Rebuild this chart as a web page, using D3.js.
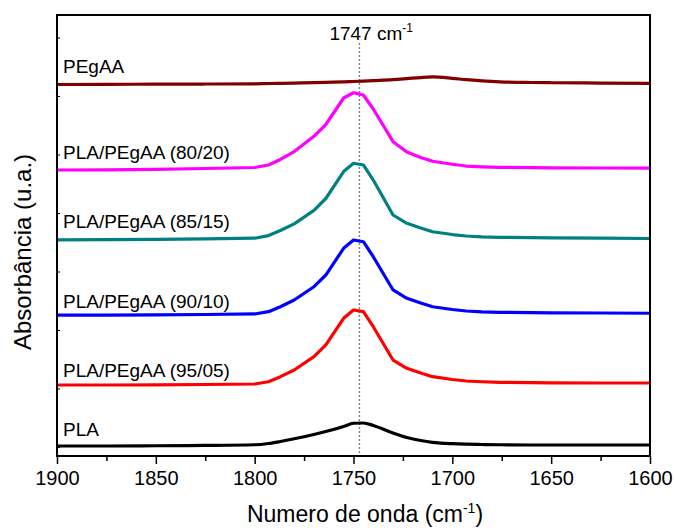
<!DOCTYPE html>
<html>
<head>
<meta charset="utf-8">
<script src="https://cdn.jsdelivr.net/npm/d3@7"></script>
<style>
  html, body { margin: 0; padding: 0; background: #fff; }
  svg { display: block; }
  text { font-family: "Liberation Sans", Arial, sans-serif; fill: #000; }
</style>
</head>
<body>
<svg id="chart" width="675" height="528"></svg>
<script>
// FTIR carbonyl region, spectra stacked with vertical offsets (arbitrary units)
const wavenumbers = [1900, 1875, 1850, 1825, 1800, 1793, 1787, 1780, 1770, 1764, 1755, 1750, 1745,
                     1740, 1730, 1723, 1716, 1710, 1700, 1693, 1685, 1676, 1660, 1650, 1625, 1600];

const seriesNames = ["PLA", "PLA/PEgAA (95/05)", "PLA/PEgAA (90/10)", "PLA/PEgAA (85/15)", "PLA/PEgAA (80/20)", "PEgAA"];

const absPLA = [0.017, 0.017, 0.021, 0.026, 0.038, 0.060, 0.094, 0.140, 0.214, 0.265, 0.350, 0.406, 0.410,
                0.368, 0.239, 0.162, 0.111, 0.080, 0.056, 0.048, 0.043, 0.038, 0.034, 0.034, 0.034, 0.034];
const abs95 = [1.060, 1.060, 1.063, 1.068, 1.077, 1.116, 1.202, 1.316, 1.544, 1.744, 2.200, 2.342, 2.313,
               2.056, 1.487, 1.345, 1.265, 1.202, 1.154, 1.128, 1.115, 1.106, 1.101, 1.097, 1.094, 1.094];
const abs90 = [2.256, 2.256, 2.260, 2.265, 2.274, 2.313, 2.398, 2.513, 2.740, 2.940, 3.397, 3.538, 3.509,
               3.253, 2.684, 2.542, 2.462, 2.398, 2.350, 2.325, 2.311, 2.303, 2.298, 2.294, 2.291, 2.286];
const abs85 = [3.542, 3.545, 3.550, 3.559, 3.569, 3.614, 3.701, 3.815, 4.046, 4.248, 4.709, 4.850, 4.821,
               4.564, 3.966, 3.824, 3.744, 3.680, 3.632, 3.607, 3.593, 3.585, 3.579, 3.576, 3.569, 3.564];
const abs80 = [4.735, 4.738, 4.747, 4.761, 4.778, 4.821, 4.915, 5.051, 5.311, 5.513, 5.966, 6.056, 6.017,
               5.778, 5.219, 5.043, 4.949, 4.885, 4.834, 4.803, 4.790, 4.781, 4.776, 4.773, 4.769, 4.766];
const absPEgAA = [6.197, 6.200, 6.202, 6.205, 6.209, 6.214, 6.217, 6.222, 6.228, 6.234, 6.242, 6.248, 6.254,
                  6.262, 6.279, 6.297, 6.316, 6.326, 6.303, 6.280, 6.260, 6.243, 6.231, 6.227, 6.222, 6.217];

const seriesValues = [absPLA, abs95, abs90, abs85, abs80, absPEgAA];
const seriesColors = ["#000000", "#ff0000", "#0000ff", "#008080", "#ff00ff", "#800000"];
// label baselines in data units (placed just above each trace)
const labelLevels = [0.180, 1.198, 2.376, 3.744, 4.923, 6.393];

const xTicks = [1900, 1850, 1800, 1750, 1700, 1650, 1600];
const xMinorTicks = [1875, 1825, 1775, 1725, 1675, 1625];
const yTicks = [0, 1, 2, 3, 4, 5, 6, 7];
const markerWavenumber = 1747;

const margin = { left: 57, right: 25, top: 15, bottom: 72 };
const W = 675, H = 528;
const x0 = margin.left, x1 = W - margin.right;
const y0 = H - margin.bottom, y1 = margin.top;

const svg = d3.select("#chart");

const x = d3.scaleLinear().domain([1900, 1600]).range([x0, x1]);
const y = d3.scaleLinear().domain([-0.154, 7.385]).range([y0, y1]);

// dotted marker at the carbonyl band
svg.append("line")
  .attr("x1", x(markerWavenumber)).attr("x2", x(markerWavenumber))
  .attr("y1", 43).attr("y2", y0)
  .attr("stroke", "#7f7f7f").attr("stroke-width", 1.4)
  .attr("stroke-dasharray", "2,2");

const markerLabel = svg.append("text")
  .attr("x", x(markerWavenumber) - 30).attr("y", 40)
  .attr("font-size", 19);
markerLabel.append("tspan").text("1747 cm");
markerLabel.append("tspan").attr("font-size", 12).attr("dy", -8).text("-1");

// spectra
seriesValues.forEach((vals, i) => {
  const smooth = (i === 0 || i === 5);
  const line = d3.line()
    .x((d, j) => x(wavenumbers[j]))
    .y(d => y(d))
    .curve(smooth ? d3.curveMonotoneX : d3.curveLinear);
  svg.append("path")
    .datum(vals)
    .attr("d", line)
    .attr("fill", "none")
    .attr("stroke", seriesColors[i])
    .attr("stroke-width", 3.2)
    .attr("stroke-linejoin", "round");
});

// series labels
seriesNames.forEach((name, i) => {
  svg.append("text")
    .attr("x", 63).attr("y", y(labelLevels[i]))
    .attr("font-size", 19)
    .text(name);
});

// bottom axis (reversed wavenumber)
const xAxis = d3.axisBottom(x).tickValues(xTicks).tickSize(8).tickPadding(7).tickFormat(d3.format("d"));
const gx = svg.append("g").attr("transform", `translate(0,${y0})`).call(xAxis);
gx.select(".domain").remove();
gx.selectAll(".tick line").attr("stroke", "#000").attr("stroke-width", 1.5);
gx.selectAll(".tick text").attr("font-size", 20).attr("font-family", "Liberation Sans, Arial, sans-serif").attr("fill", "#000");

const xMinor = d3.axisBottom(x).tickValues(xMinorTicks).tickSize(5).tickFormat("");
const gxm = svg.append("g").attr("transform", `translate(0,${y0})`).call(xMinor);
gxm.select(".domain").remove();
gxm.selectAll(".tick line").attr("stroke", "#000").attr("stroke-width", 1.5);

// left axis: small inward ticks, no labels
const yAxis = d3.axisRight(y).tickValues(yTicks).tickSize(3).tickFormat("");
const gy = svg.append("g").attr("transform", `translate(${x0},0)`).call(yAxis);
gy.select(".domain").remove();
gy.selectAll(".tick line").attr("stroke", "#000").attr("stroke-width", 1);

// frame
svg.append("rect")
  .attr("x", x0).attr("y", y1)
  .attr("width", x1 - x0).attr("height", y0 - y1)
  .attr("fill", "none").attr("stroke", "#000").attr("stroke-width", 2);

// axis titles
const xTitle = svg.append("text")
  .attr("x", 365).attr("y", 522)
  .attr("text-anchor", "middle")
  .attr("font-size", 23);
xTitle.append("tspan").text("Numero de onda (cm");
xTitle.append("tspan").attr("font-size", 14).attr("dy", -9).text("-1");
xTitle.append("tspan").attr("dy", 9).text(")");

svg.append("text")
  .attr("transform", "translate(31,252) rotate(-90)")
  .attr("text-anchor", "middle")
  .attr("font-size", 24)
  .text("Absorbância (u.a.)");
</script>
</body>
</html>
